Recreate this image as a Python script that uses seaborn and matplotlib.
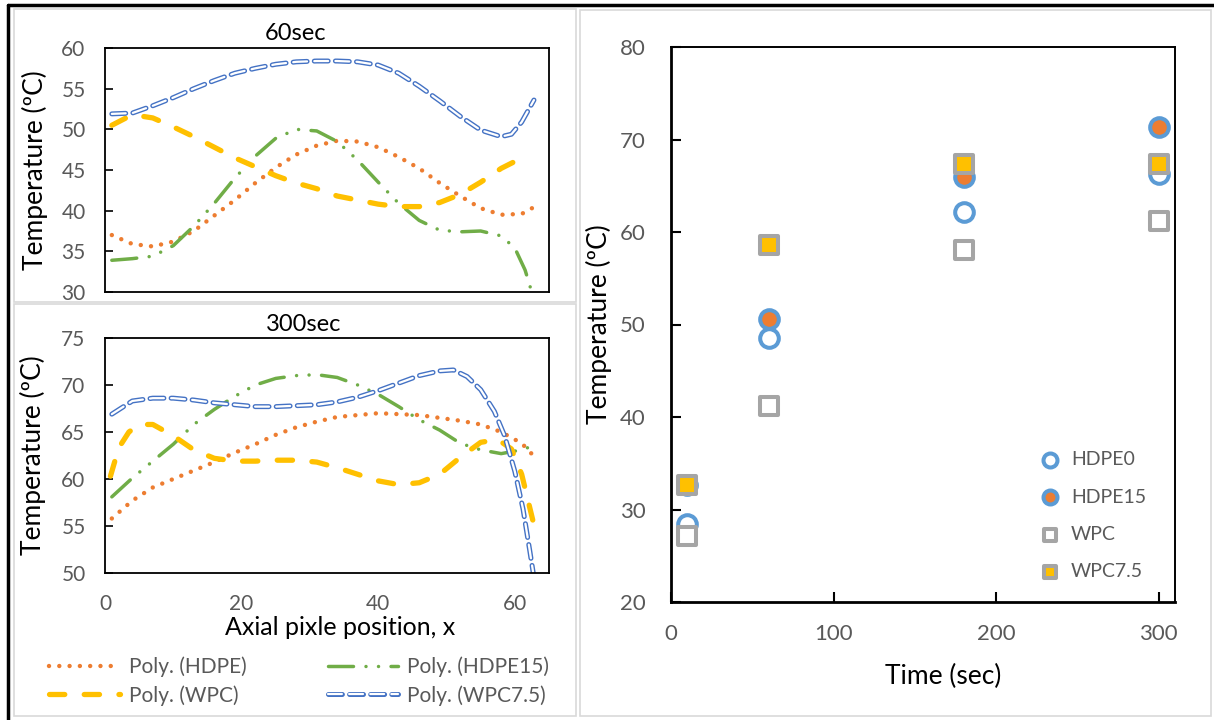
import numpy as np
import pandas as pd
import matplotlib
matplotlib.use("Agg")
import matplotlib.pyplot as plt
import seaborn as sns
from matplotlib.lines import Line2D
from matplotlib.patches import Rectangle

# ------------------------------------------
# DATA
# ------------------------------------------

# 60 sec profiles
x60_hdpe = [1, 4, 7, 10, 13, 16, 19, 22, 25, 28, 31, 34, 37, 40, 43, 46, 49, 52, 55, 58, 61, 62.5]
y60_hdpe = [37.0, 35.9, 35.6, 36.2, 37.5, 39.4, 41.3, 43.4, 45.3, 46.9, 48.0, 48.6, 48.5, 47.8,
            46.6, 45.2, 43.4, 41.8, 40.3, 39.5, 39.6, 40.3]

x60_hdpe15 = [1, 4, 7, 10, 13, 16, 19, 22, 25, 28, 31, 34, 37, 40, 43, 46, 49, 52, 55, 58, 60, 61.5, 62.4]
y60_hdpe15 = [33.9, 34.1, 34.4, 35.7, 38.1, 40.9, 44.0, 46.7, 48.9, 50.0, 49.8, 48.5, 46.2, 43.5,
              40.9, 38.8, 37.6, 37.4, 37.5, 36.9, 35.4, 32.7, 30.2]

x60_wpc = [1, 4, 7, 10, 13, 16, 19, 22, 25, 28, 31, 34, 37, 40, 43, 46, 49, 52, 55, 58, 61.3]
y60_wpc = [50.5, 51.8, 51.4, 50.3, 49.1, 47.8, 46.5, 45.4, 44.3, 43.4, 42.7, 41.8, 41.3, 40.8,
           40.5, 40.5, 41.0, 42.0, 43.5, 45.2, 46.6]

x60_wpc75 = [1, 4, 7, 10, 13, 16, 19, 22, 25, 28, 31, 34, 37, 40, 43, 46, 49, 52, 55, 58, 59.5, 61, 62.8]
y60_wpc75 = [51.9, 52.0, 52.9, 53.9, 55.0, 56.0, 56.9, 57.5, 58.0, 58.3, 58.4, 58.4, 58.3, 57.9,
             56.9, 55.3, 53.5, 51.6, 49.9, 49.1, 49.4, 50.9, 53.6]

# 300 sec profiles
x300_hdpe = [1, 4, 7, 10, 13, 16, 19, 22, 25, 28, 31, 34, 37, 40, 43, 46, 49, 52, 55, 58, 61, 62.7]
y300_hdpe = [55.8, 57.7, 59.1, 60.0, 60.9, 61.8, 62.8, 63.7, 64.7, 65.5, 66.1, 66.6, 66.8, 67.0,
             66.9, 66.8, 66.5, 66.2, 65.8, 65.0, 63.8, 62.5]

x300_hdpe15 = [1, 4, 7, 10, 13, 16, 19, 22, 25, 28, 31, 34, 37, 40, 43, 46, 49, 52, 55, 58, 61, 63.3]
y300_hdpe15 = [58.1, 60.1, 61.9, 63.7, 65.8, 67.4, 68.8, 70.0, 70.7, 71.0, 71.1, 70.8, 70.0, 69.0,
               67.7, 66.3, 65.2, 63.8, 63.1, 62.7, 63.1, 63.7]

x300_wpc = [0.8, 2, 3.5, 5, 7, 10, 13, 16, 19, 22, 25, 28, 31, 34, 37, 40, 43, 46, 49, 52, 55,
            57.5, 59.5, 61, 62, 63]
y300_wpc = [60.3, 63.3, 65.0, 65.8, 65.8, 64.6, 63.1, 62.2, 61.9, 61.9, 62.0, 62.0, 61.8, 61.2,
            60.5, 59.8, 59.4, 59.6, 60.5, 62.3, 63.9, 64.2, 63.2, 60.5, 57.5, 54.5]

x300_wpc75 = [1, 4, 7, 10, 13, 16, 19, 22, 25, 28, 31, 34, 37, 40, 43, 46, 49, 51, 53, 55, 57,
              58.5, 60, 61.2, 62.2, 62.8]
y300_wpc75 = [66.9, 68.3, 68.6, 68.6, 68.4, 68.1, 67.9, 67.7, 67.7, 67.8, 67.9, 68.2, 68.7, 69.4,
              70.2, 71.0, 71.5, 71.6, 70.9, 69.5, 67.2, 64.6, 60.8, 56.8, 52.3, 49.5]

# Temperature vs time
times = [10, 60, 180, 300]
temp_hdpe0 = [28.4, 48.5, 62.2, 66.3]
temp_hdpe15 = [32.6, 50.6, 66.0, 71.4]
temp_wpc = [27.1, 41.2, 58.1, 61.2]
temp_wpc75 = [32.7, 58.6, 67.3, 67.4]

# ------------------------------------------
# STYLE
# ------------------------------------------

sns.set_theme(style="white")
plt.rcParams['font.family'] = ['Lato', 'DejaVu Sans']
plt.rcParams['lines.scale_dashes'] = False

ORANGE = '#ED7D31'
GREEN = '#70AD47'
YELLOW = '#FFC000'
BLUE = '#4472C4'
LBLUE = '#5B9BD5'
GREY = '#A5A5A5'
TICK = '#595959'

line_styles = {
    'HDPE':   dict(color=ORANGE, lw=3.2, dashes=(0.01, 7.4), cap='round'),
    'HDPE15': dict(color=GREEN, lw=2.5, dashes=(18, 9, 0.01, 9, 0.01, 9), cap='round'),
    'WPC':    dict(color=YELLOW, lw=3.8, dashes=(11, 14), cap='round'),
    'WPC7.5': dict(color=BLUE, lw=3.6, dashes=(10, 5.2), cap='round'),
}
INNER_LW = 1.6

fig = plt.figure(figsize=(12.14, 7.2), dpi=100)
W, H = 1214, 720


def px_axes(l, t, r, b):
    return fig.add_axes([l / W, 1 - b / H, (r - l) / W, (b - t) / H])


def draw_profile(ax, x, y, name):
    st = line_styles[name]
    sns.lineplot(x=x, y=y, ax=ax, color=st['color'], linewidth=st['lw'])
    ln = ax.lines[-1]
    ln.set_dashes(st['dashes'])
    ln.set_dash_capstyle(st['cap'])
    if name == 'WPC7.5':
        sns.lineplot(x=x, y=y, ax=ax, color='white', linewidth=INNER_LW)
        inner = ax.lines[-1]
        inner.set_dashes(st['dashes'])
        inner.set_dash_capstyle('round')


def style_profile_axes(ax, ylim, yticks, show_x):
    ax.set_xlim(0, 65)
    ax.set_ylim(*ylim)
    ax.set_yticks(yticks)
    ax.set_xticks([0, 20, 40, 60])
    for s in ax.spines.values():
        s.set_color('black')
        s.set_linewidth(1.3)
    ax.tick_params(axis='y', direction='in', length=6, width=1.2, color='black',
                   labelsize=15, labelcolor=TICK, pad=14, left=True)
    ax.tick_params(axis='x', length=0, labelsize=15, labelcolor=TICK, pad=15,
                   labelbottom=show_x)
    ax.set_ylabel("Temperature (ºC)", fontsize=19, color='black')
    ax.grid(False)


# ------------------------------------------
# TOP LEFT: 60 sec
# ------------------------------------------
ax1 = px_axes(105, 48, 549, 292)
draw_profile(ax1, x60_hdpe, y60_hdpe, 'HDPE')
draw_profile(ax1, x60_hdpe15, y60_hdpe15, 'HDPE15')
draw_profile(ax1, x60_wpc, y60_wpc, 'WPC')
draw_profile(ax1, x60_wpc75, y60_wpc75, 'WPC7.5')
style_profile_axes(ax1, (30, 60), [30, 35, 40, 45, 50, 55, 60], False)
ax1.yaxis.set_label_coords(-(105 - 48) / 444, 0.5)
fig.text(296 / W, 1 - 33 / H, "60sec", ha='center', va='center', fontsize=17, color='black')

# ------------------------------------------
# BOTTOM LEFT: 300 sec
# ------------------------------------------
ax2 = px_axes(105, 338, 549, 573)
draw_profile(ax2, x300_hdpe, y300_hdpe, 'HDPE')
draw_profile(ax2, x300_hdpe15, y300_hdpe15, 'HDPE15')
draw_profile(ax2, x300_wpc, y300_wpc, 'WPC')
draw_profile(ax2, x300_wpc75, y300_wpc75, 'WPC7.5')
style_profile_axes(ax2, (50, 75), [50, 55, 60, 65, 70, 75], True)
ax2.yaxis.set_label_coords(-(105 - 46) / 444, 0.5)
ax2.set_xlabel("Axial pixle position, x", fontsize=18, color='black')
ax2.xaxis.set_label_coords((340 - 105) / 444, -(616 - 573) / 235)
fig.text(304 / W, 1 - 325 / H, "300sec", ha='center', va='center', fontsize=17, color='black')

# legend for the profiles
def handle(name):
    st = line_styles[name]
    h = Line2D([], [], color=st['color'], lw=st['lw'], dashes=st['dashes'],
               dash_capstyle=st['cap'])
    if name == 'WPC7.5':
        h2 = Line2D([], [], color='white', lw=INNER_LW, dashes=st['dashes'],
                    dash_capstyle='round')
        return (h, h2)
    return h


leg1 = fig.legend([handle('HDPE'), handle('WPC'), handle('HDPE15'), handle('WPC7.5')],
                  ["Poly. (HDPE)", "Poly. (WPC)", "Poly. (HDPE15)", "Poly. (WPC7.5)"],
                  ncol=2, frameon=False, fontsize=15, handlelength=3.4, handletextpad=0.4,
                  columnspacing=3.9, labelspacing=0.4, loc='center',
                  bbox_to_anchor=(299 / W, 1 - 681 / H))
for t in leg1.get_texts():
    t.set_color(TICK)

# ------------------------------------------
# RIGHT: temperature vs time
# ------------------------------------------
ax3 = px_axes(671, 47, 1175, 602)
sns.scatterplot(x=times, y=temp_hdpe0, ax=ax3, marker='o', s=180, facecolor='white',
                edgecolor=LBLUE, linewidth=2.9, label='HDPE0', zorder=3)
sns.scatterplot(x=times, y=temp_hdpe15, ax=ax3, marker='o', s=180, facecolor=ORANGE,
                edgecolor=LBLUE, linewidth=2.9, label='HDPE15', zorder=3)
sns.scatterplot(x=times, y=temp_wpc, ax=ax3, marker='s', s=155, facecolor='white',
                edgecolor=GREY, linewidth=2.9, label='WPC', zorder=3)
sns.scatterplot(x=times, y=temp_wpc75, ax=ax3, marker='s', s=155, facecolor=YELLOW,
                edgecolor=GREY, linewidth=2.9, label='WPC7.5', zorder=3)
ax3.set_xlim(0, 310)
ax3.set_ylim(20, 80)
ax3.set_xticks([0, 100, 200, 300])
ax3.set_yticks([20, 30, 40, 50, 60, 70, 80])
for side, s in ax3.spines.items():
    s.set_color('black')
    s.set_linewidth(2.0 if side in ('left', 'bottom') else 1.4)
ax3.tick_params(axis='both', direction='in', length=7, width=1.5, color='black',
                labelsize=16, labelcolor=TICK, bottom=True, left=True)
ax3.tick_params(axis='y', pad=18)
ax3.tick_params(axis='x', pad=16)
ax3.set_xlabel("Time (sec)", fontsize=19, color='black')
ax3.set_ylabel("Temperature (ºC)", fontsize=19, color='black')
ax3.xaxis.set_label_coords((943 - 671) / 504, -(664 - 602) / 555)
ax3.yaxis.set_label_coords(-(671 - 612) / 504, 0.5)
ax3.grid(False)
leg3 = ax3.legend(loc='lower right', bbox_to_anchor=(0.958, 0.025), frameon=False,
                  fontsize=14, markerscale=0.75, handletextpad=0.1, labelspacing=1.05,
                  borderaxespad=0)
for t in leg3.get_texts():
    t.set_color(TICK)

# ------------------------------------------
# FRAMES
# ------------------------------------------
def frame(l, t, r, b, color, lw):
    fig.patches.append(Rectangle((l / W, 1 - b / H), (r - l) / W, (b - t) / H,
                                 transform=fig.transFigure, fill=False,
                                 edgecolor=color, linewidth=lw, zorder=0))


frame(14, 9, 576, 302, '#D9D9D9', 1.2)
frame(14, 304, 576, 716, '#D9D9D9', 1.2)
frame(580, 10, 1211, 716, '#D9D9D9', 1.2)
fig.add_artist(Line2D([8 / W, 1], [1 - 5 / H, 1 - 5 / H], color='black', lw=2.5,
                      transform=fig.transFigure))
fig.add_artist(Line2D([8 / W, 8 / W], [1 - 5 / H, 0], color='black', lw=2.5,
                      transform=fig.transFigure))

fig.savefig("out.png", dpi=100)
